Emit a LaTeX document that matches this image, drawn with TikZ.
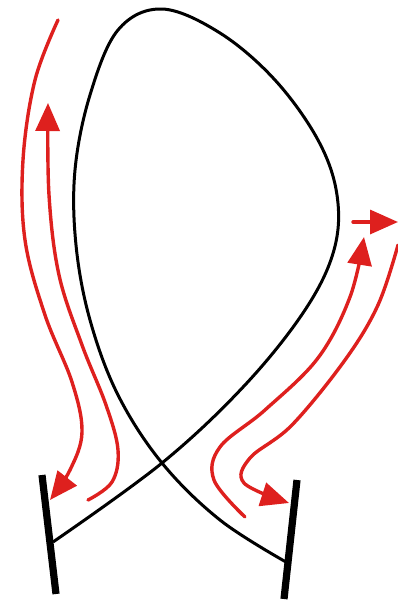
\documentclass[tikz,border=0pt]{standalone}
\usetikzlibrary{arrows.meta}
\definecolor{flowred}{RGB}{222,32,30}

\begin{document}
\begin{tikzpicture}[
    x=0.25mm, y=-0.25mm,
    wall/.style={line width=1.8mm, line cap=butt},
    field/.style={line width=0.75mm, black},
    flow/.style={line width=0.85mm, flowred, line cap=round, -{Triangle[length=7mm,width=6mm]}}
  ]
    \useasboundingbox (0,0) rectangle (398,601);
    \coordinate (lt) at (42,475);
    \coordinate (lb) at (56,594);
    \coordinate (rt) at (297,480);
    \coordinate (rb) at (284,599);
    \coordinate (lfoot) at (53,542);
    \coordinate (rfoot) at (286,562);
    \draw[field] plot[smooth, tension=0.6] coordinates {(lfoot) (162,463) (245,385) (305,310) (334,250) (337,195) (318,140) (275,80) (220,33) (162,9) (118,30) (90,95) (75,170) (76,245) (90,320) (118,395) (162,463) (220,520) (rfoot)};
    \draw[wall] (lt) -- (lb);
    \draw[wall] (rt) -- (rb);
    \draw[flow] plot[smooth, tension=0.6] coordinates {(58,20) (35,80) (23,160) (25,240) (45,315) (72,382) (82,432) (70,470) (50,500)};
    \draw[flow] plot[smooth, tension=0.6] coordinates {(88,500) (112,482) (118,450) (106,405) (82,345) (59,275) (49,195) (48,103)};
    \draw[flow] plot[smooth, tension=0.6] coordinates {(245,517) (214,480) (220,447) (265,410) (318,358) (350,297) (364,237)};
    \draw[flow] plot[smooth, tension=0.6] coordinates {(398,245) (378,305) (345,360) (292,425) (250,458) (244,483) (289,503)};
    \draw[flow] (353,222) -- (398,222);
\end{tikzpicture}
\end{document}
